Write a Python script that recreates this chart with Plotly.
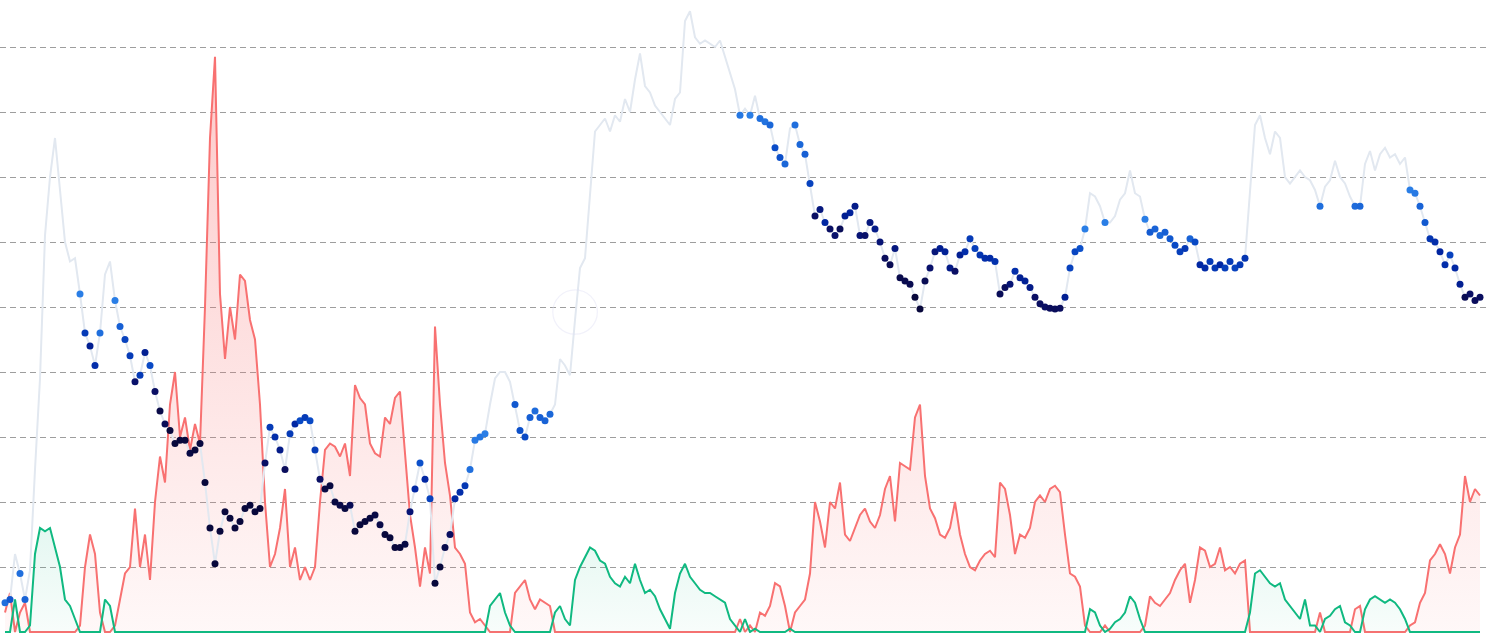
import plotly.graph_objects as go

# Price (grid units), sampled every 5 px from x=5 to x=1480
price = [
    0.45, 0.5, 1.2, 0.9, 0.5, 0.95, 2.5, 3.9, 6.1, 7.0,
    7.6, 6.8, 6.0, 5.7, 5.75, 5.2, 4.6, 4.4, 4.1, 4.6,
    5.5, 5.7, 5.1, 4.7, 4.5, 4.25, 3.85, 3.95, 4.3, 4.1,
    3.7, 3.4, 3.2, 3.1, 2.9, 2.95, 2.95, 2.75, 2.8, 2.9,
    2.3, 1.6, 1.05, 1.55, 1.85, 1.75, 1.6, 1.7, 1.9, 1.95,
    1.85, 1.9, 2.6, 3.15, 3.0, 2.8, 2.5, 3.05, 3.2, 3.25,
    3.3, 3.25, 2.8, 2.35, 2.2, 2.25, 2.0, 1.95, 1.9, 1.95,
    1.55, 1.65, 1.7, 1.75, 1.8, 1.65, 1.5, 1.45, 1.3, 1.3,
    1.35, 1.85, 2.2, 2.6, 2.35, 2.05, 0.75, 1.0, 1.3, 1.5,
    2.05, 2.15, 2.25, 2.5, 2.95, 3.0, 3.05, 3.5, 3.9, 4.0,
    4.0, 3.85, 3.5, 3.1, 3.0, 3.3, 3.4, 3.3, 3.25, 3.35,
    3.5, 4.2, 4.1, 3.95, 4.8, 5.6, 5.75, 6.8, 7.7, 7.8,
    7.9, 7.7, 7.95, 7.85, 8.2, 8.0, 8.5, 8.9, 8.4, 8.3,
    8.1, 8.0, 7.9, 7.8, 8.2, 8.3, 9.4, 9.55, 9.15, 9.05,
    9.1, 9.05, 9.0, 9.1, 8.85, 8.6, 8.35, 7.95, 8.05, 7.95,
    8.25, 7.9, 7.85, 7.8, 7.45, 7.3, 7.2, 7.75, 7.8, 7.5,
    7.35, 6.9, 6.4, 6.5, 6.3, 6.2, 6.1, 6.2, 6.4, 6.45,
    6.55, 6.1, 6.1, 6.3, 6.2, 6.0, 5.75, 5.65, 5.9, 5.45,
    5.4, 5.35, 5.15, 4.97, 5.4, 5.6, 5.85, 5.9, 5.85, 5.6,
    5.55, 5.8, 5.85, 6.05, 5.9, 5.8, 5.75, 5.75, 5.7, 5.2,
    5.3, 5.35, 5.55, 5.45, 5.4, 5.3, 5.15, 5.05, 5.0, 4.98,
    4.97, 4.98, 5.15, 5.6, 5.85, 5.9, 6.2, 6.75, 6.7, 6.55,
    6.3, 6.3, 6.4, 6.65, 6.75, 7.1, 6.75, 6.7, 6.35, 6.15,
    6.2, 6.1, 6.15, 6.05, 5.95, 5.85, 5.9, 6.05, 6.0, 5.65,
    5.6, 5.7, 5.6, 5.65, 5.6, 5.7, 5.6, 5.65, 5.75, 6.8,
    7.8, 7.95, 7.6, 7.35, 7.7, 7.6, 7.0, 6.9, 7.0, 7.1,
    7.0, 6.95, 6.8, 6.55, 6.85, 6.95, 7.25, 7.0, 6.9, 6.7,
    6.55, 6.55, 7.2, 7.4, 7.1, 7.35, 7.45, 7.3, 7.35, 7.2,
    7.3, 6.8, 6.75, 6.55, 6.3, 6.05, 6.0, 5.85, 5.65, 5.8,
    5.6, 5.35, 5.15, 5.2, 5.1, 5.15,
]

# Oscillator: positive = red (risk), negative = green
signal = [
    0.3, 0.6, -0.5, 0.3, 0.45, -0.1, -1.2, -1.6, -1.55, -1.6,
    -1.3, -1.0, -0.5, -0.4, -0.2, 0.1, 1.0, 1.5, 1.2, 0.3,
    -0.5, -0.4, 0.1, 0.5, 0.9, 1.0, 1.9, 1.0, 1.5, 0.8,
    2.0, 2.7, 2.3, 3.5, 4.0, 3.0, 3.3, 2.8, 3.2, 2.9,
    5.0, 7.6, 8.85, 5.2, 4.2, 5.0, 4.5, 5.5, 5.4, 4.8,
    4.5, 3.5, 2.0, 1.0, 1.2, 1.6, 2.2, 1.0, 1.3, 0.8,
    1.0, 0.8, 1.0, 2.0, 2.8, 2.9, 2.85, 2.7, 2.9, 2.4,
    3.8, 3.6, 3.5, 2.9, 2.75, 2.7, 3.3, 3.2, 3.6, 3.7,
    2.8, 1.8, 1.3, 0.7, 1.3, 0.9, 4.7, 3.5, 2.6, 2.1,
    1.3, 1.2, 1.05, 0.3, 0.15, 0.2, 0.1, -0.4, -0.5, -0.6,
    -0.3, -0.1, 0.6, 0.7, 0.8, 0.5, 0.35, 0.5, 0.45, 0.4,
    -0.3, -0.4, -0.2, -0.1, -0.8, -1.0, -1.15, -1.3, -1.25, -1.1,
    -1.05, -0.85, -0.75, -0.7, -0.85, -0.75, -1.05, -0.8, -0.6, -0.65,
    -0.55, -0.35, -0.2, -0.05, -0.6, -0.9, -1.05, -0.85, -0.75, -0.65,
    -0.6, -0.6, -0.55, -0.5, -0.45, -0.2, -0.1, 0.2, -0.2, 0.1,
    -0.05, 0.3, 0.25, 0.4, 0.75, 0.7, 0.4, -0.05, 0.3, 0.4,
    0.5, 0.9, 2.0, 1.7, 1.3, 2.0, 1.9, 2.3, 1.5, 1.4,
    1.6, 1.8, 1.9, 1.7, 1.6, 1.8, 2.2, 2.4, 1.7, 2.6,
    2.55, 2.5, 3.3, 3.5, 2.4, 1.9, 1.75, 1.5, 1.45, 1.6,
    2.0, 1.5, 1.2, 1.0, 0.95, 1.1, 1.2, 1.25, 1.15, 2.3,
    2.2, 1.8, 1.2, 1.5, 1.45, 1.6, 2.0, 2.1, 2.0, 2.2,
    2.25, 2.15, 1.5, 0.9, 0.85, 0.7, 0.1, -0.35, -0.3, -0.1,
    0.1, -0.05, -0.15, -0.2, -0.3, -0.55, -0.45, -0.2, 0.1, 0.55,
    0.45, 0.4, 0.5, 0.6, 0.8, 0.95, 1.05, 0.45, 0.8, 1.3,
    1.25, 1.0, 1.05, 1.3, 0.95, 1.0, 0.9, 1.05, 1.1, -0.3,
    -0.9, -0.95, -0.85, -0.75, -0.7, -0.75, -0.5, -0.4, -0.3, -0.2,
    -0.5, -0.1, -0.1, 0.3, -0.2, -0.25, -0.35, -0.4, -0.15, -0.1,
    0.35, 0.4, -0.35, -0.5, -0.55, -0.5, -0.45, -0.5, -0.45, -0.35,
    -0.2, 0.1, 0.15, 0.45, 0.6, 1.1, 1.2, 1.35, 1.2, 0.9,
    1.3, 1.5, 2.4, 2.0, 2.2, 2.1,
]

t = list(range(len(price)))
red = [v if v > 0 else 0 for v in signal]
green = [-v if v < 0 else 0 for v in signal]

dot_x = [t[i] for i in range(len(t)) if signal[i] > 0]
dot_y = [price[i] for i in range(len(t)) if signal[i] > 0]
dot_c = [signal[i] for i in range(len(t)) if signal[i] > 0]

fig = go.Figure()

fig.add_trace(go.Scatter(
    x=t, y=red, mode="lines",
    line=dict(color="#f87171", width=2),
    fill="tozeroy",
    fillgradient=dict(type="vertical", start=0, stop=9,
                      colorscale=[[0, "rgba(248,113,113,0.05)"], [1, "rgba(248,113,113,0.38)"]]),
    hoverinfo="skip", showlegend=False,
))
fig.add_trace(go.Scatter(
    x=t, y=green, mode="lines",
    line=dict(color="#10b981", width=2),
    fill="tozeroy",
    fillgradient=dict(type="vertical", start=0, stop=1.8,
                      colorscale=[[0, "rgba(16,185,129,0.03)"], [1, "rgba(16,185,129,0.12)"]]),
    hoverinfo="skip", showlegend=False,
))
fig.add_trace(go.Scatter(
    x=t, y=price, mode="lines",
    line=dict(color="#e2e8f0", width=2),
    hoverinfo="skip", showlegend=False,
))
fig.add_trace(go.Scatter(
    x=dot_x, y=dot_y, mode="markers",
    marker=dict(size=7, color=dot_c, cmin=0, cmax=3,
                colorscale=[[0, "#2f86eb"], [0.25, "#0a4cc8"], [0.45, "#0024a0"],
                            [0.65, "#0a0f66"], [1, "#08083c"]],
                line=dict(width=0)),
    hoverinfo="skip", showlegend=False,
))

fig.add_shape(type="circle", xref="paper", yref="paper",
              x0=0.372, x1=0.402, y0=0.472, y1=0.542,
              line=dict(color="rgba(225,225,245,0.45)", width=1.2))

fig.update_layout(
    width=1490, height=633,
    margin=dict(l=0, r=4, t=0, b=0),
    paper_bgcolor="white", plot_bgcolor="white",
    xaxis=dict(range=[-1, 296.2], visible=False, showgrid=False, zeroline=False),
    yaxis=dict(range=[-0.0154, 9.723], tick0=0, dtick=1, showgrid=True,
               gridcolor="#9e9e9e", gridwidth=1, griddash="6px,4px",
               zeroline=False, showticklabels=False, showline=False, ticks=""),
)

fig.write_html("out.html", config={"displayModeBar": False},
               post_script="document.body.style.margin='0';document.body.style.overflow='hidden';")
